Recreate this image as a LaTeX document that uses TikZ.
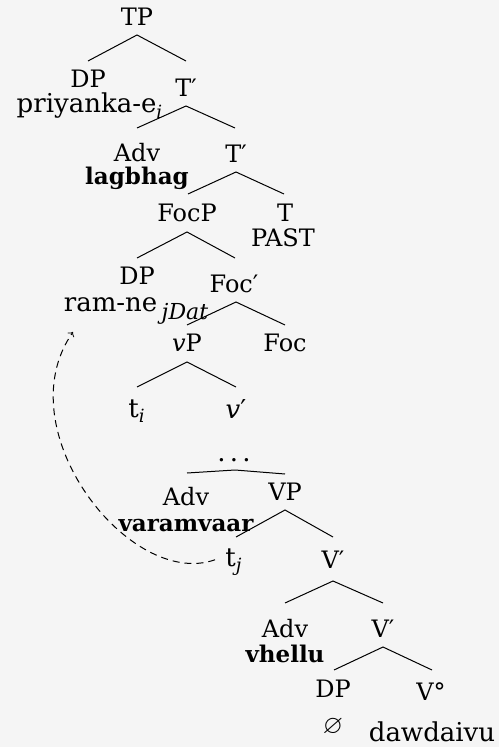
\documentclass[tikz,border=0pt]{standalone}
\usepackage{fontspec}
\usepackage{amssymb}
\setmainfont{DejaVu Serif}
\usetikzlibrary{calc}
\definecolor{bgc}{RGB}{245,245,245}
\newcommand{\pr}{′}
\begin{document}
\begin{tikzpicture}[x=0.5pt,y=-0.5pt,
  lbl/.style={font=\fontsize{12}{14}\selectfont, anchor=base, inner sep=0pt},
  wrd/.style={font=\fontsize{13}{15}\selectfont, anchor=base, inner sep=0pt},
  bwrd/.style={font=\fontsize{11.5}{14}\selectfont\bfseries, anchor=base, inner sep=0pt},
  branch/.style={line width=0.5pt},
  move/.style={line width=0.5pt, dash pattern=on 3.5pt off 2.5pt, ->}]
\fill[bgc] (0,0) rectangle (499,747);
\useasboundingbox (0,0) rectangle (499,747);
% nodes
\node[lbl] (TP) at (137,26) {TP};
\node[lbl] (DP1) at (88,88) {DP};
\node[wrd] (pri) at (90,113) {priyanka-e\textsubscript{\textit{i}}};
\node[lbl] (T1) at (186,97) {T\pr};
\node[lbl] (Adv1) at (137,162) {Adv};
\node[bwrd] (lag) at (137,185) {lagbhag};
\node[lbl] (T2) at (236,163) {T\pr};
\node[lbl] (FocP) at (187,222) {FocP};
\node[lbl] (T) at (285,222) {T};
\node[lbl] (PAST) at (283,247) {PAST};
\node[lbl] (DP2) at (137,285) {DP};
\node[wrd] (ram) at (136,312) {ram-ne\,\raisebox{-4pt}{\fontsize{11}{12}\selectfont\itshape jDat}};
\node[lbl] (Foc1) at (234,293) {Foc\pr};
\node[lbl] (vP) at (187,352) {\textit{v}P};
\node[lbl] (Foc2) at (285,352) {Foc};
\node[wrd] (ti) at (137,417) {t\textsubscript{\textit{i}}};
\node[wrd] (v1) at (236,418) {\textit{v}\pr};
\node[wrd] (dots) at (234,461) {.\,.\,.};
\node[lbl] (Adv2) at (186,505) {Adv};
\node[bwrd] (var) at (186,531) {varamvaar};
\node[lbl] (VP) at (285,500) {VP};
\node[wrd] (tj) at (234,566) {t\textsubscript{\textit{j}}};
\node[lbl] (V1) at (333,568) {V\pr};
\node[lbl] (Adv3) at (285,637) {Adv};
\node[bwrd] (vhe) at (285,662) {vhellu};
\node[lbl] (V2) at (383,637) {V\pr};
\node[lbl] (DP3) at (333,697) {DP};
\node[lbl] (V0) at (431,700) {V\textdegree};
\node[wrd] (empty) at (333,733) {$\varnothing$};
\node[wrd] (daw) at (432,741) {dawdaivu};
% branches
\draw[branch] (88,61) -- ([yshift=-4.5pt]TP.base) -- (186,61);
\draw[branch] (137,128) -- ([yshift=-4.5pt]T1.base) -- (235,128);
\draw[branch] (188,194) -- ([yshift=-4.5pt]T2.base) -- (284,194);
\draw[branch] (137,258) -- ([yshift=-5pt]FocP.base) -- (235,258);
\draw[branch] (187,325) -- ([xshift=1pt,yshift=-4.5pt]Foc1.base) -- (285,325);
\draw[branch] (137,387) -- ([yshift=-5pt]vP.base) -- (236,387);
\draw[branch] (187,473) -- ([xshift=0.5pt,yshift=-4.5pt]dots.base) -- (285,474);
\draw[branch] (236,537) -- ([yshift=-5pt]VP.base) -- (333,537);
\draw[branch] (285,603) -- ([yshift=-6.5pt]V1.base) -- (383,603);
\draw[branch] (334,670) -- ([yshift=-5pt]V2.base) -- (432,670);
% movement
\coordinate (mvend) at (73,332);
\draw[move] ([xshift=-5pt,yshift=1pt]tj.west) .. controls (130,590) and (5,430) .. (mvend);
\end{tikzpicture}
\end{document}
